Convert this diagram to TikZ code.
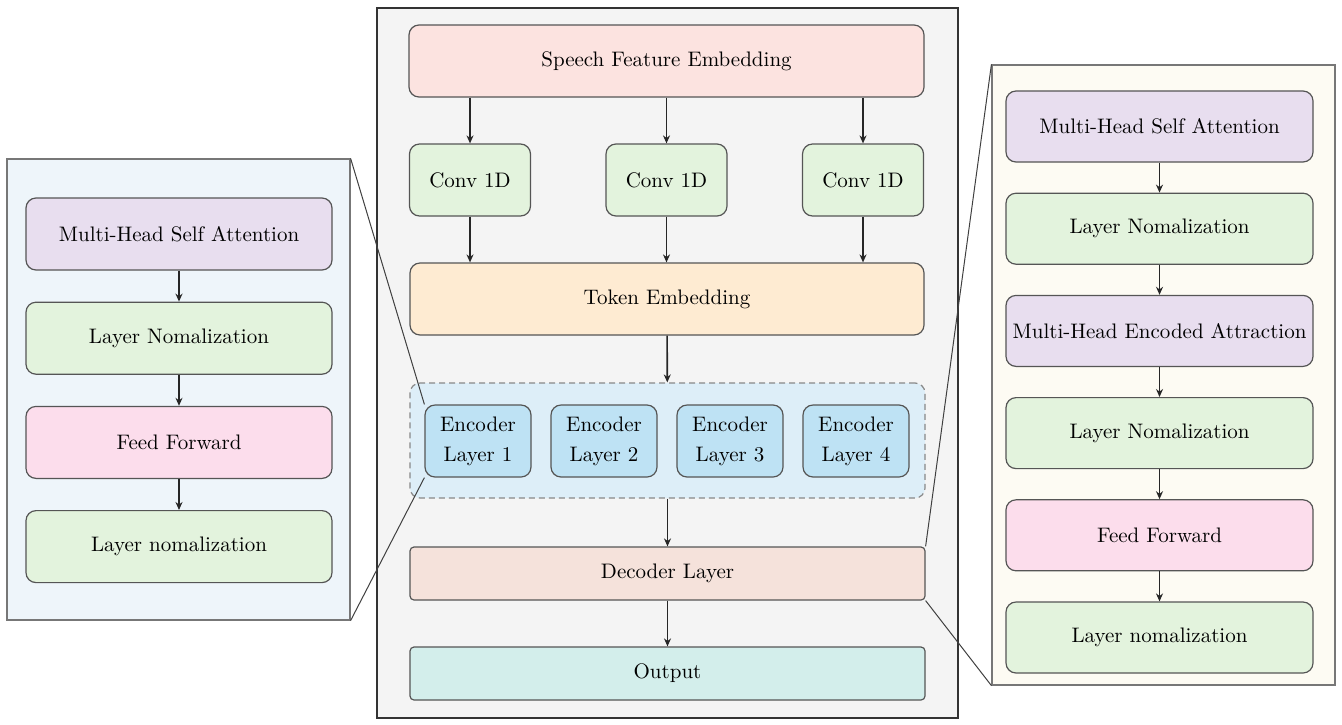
\documentclass[tikz,border=0pt]{standalone}
\usepackage{xcolor}
\usetikzlibrary{arrows.meta, positioning}

\definecolor{edgegray}{HTML}{555555}
\definecolor{mainbg}{HTML}{F4F4F4}
\definecolor{leftbg}{HTML}{EEF5FA}
\definecolor{rightbg}{HTML}{FDFBF3}
\definecolor{speechfill}{HTML}{FCE3E0}
\definecolor{convfill}{HTML}{E3F3DD}
\definecolor{tokenfill}{HTML}{FEEBD2}
\definecolor{groupfill}{HTML}{DDEEF8}
\definecolor{encfill}{HTML}{BEE2F4}
\definecolor{decfill}{HTML}{F5E2DB}
\definecolor{outfill}{HTML}{D3EEEB}
\definecolor{attnfill}{HTML}{E8DEEF}
\definecolor{normfill}{HTML}{E3F3DD}
\definecolor{ffwdfill}{HTML}{FCDDEC}

\begin{document}
\begin{tikzpicture}[
  x=0.5pt, y=-0.5pt,
  every node/.style={font=\fontsize{10.5}{15}\selectfont, inner sep=0pt, align=center},
  block/.style={draw=edgegray, line width=0.6pt, rounded corners=5pt},
  flatblock/.style={draw=edgegray, line width=0.6pt, rounded corners=2pt},
  panel/.style={draw=edgegray!80, line width=0.6pt},
  flow/.style={-{Stealth[length=4pt, width=3.5pt]}, line width=0.8pt, black!85},
  zoomline/.style={line width=0.5pt, black!75}
]
\useasboundingbox (0,0) rectangle (1342,724);

% Main model
\node[panel, draw=black!80, line width=0.9pt, fill=mainbg, minimum width=290.5pt, minimum height=355pt] (main) at (667.5,363) {};
\node[block, fill=speechfill, minimum width=257.5pt, minimum height=36pt] (speech) at (666.5,61) {Speech Feature Embedding};
\node[block, fill=convfill, minimum width=60.5pt, minimum height=36pt] (conv1) at (470,180) {Conv 1D};
\node[block, fill=convfill, minimum width=60.5pt, minimum height=36pt] (conv2) at (666.5,180) {Conv 1D};
\node[block, fill=convfill, minimum width=60.5pt, minimum height=36pt] (conv3) at (863,180) {Conv 1D};
\node[block, fill=tokenfill, minimum width=257pt, minimum height=36pt] (token) at (667,299) {Token Embedding};
\node[block, draw=edgegray!70, densely dashed, fill=groupfill, minimum width=257.5pt, minimum height=57.5pt] (encgroup) at (667.5,440.5) {};
\foreach \i/\x in {1/478, 2/604, 3/730, 4/856}
  \node[block, fill=encfill, minimum width=53pt, minimum height=36pt] (enc\i) at (\x,441) {Encoder\\Layer \i};
\node[flatblock, fill=decfill, minimum width=257.5pt, minimum height=26.5pt] (dec) at (667.5,573.5) {Decoder Layer};
\node[flatblock, fill=outfill, minimum width=257.5pt, minimum height=26.5pt] (out) at (667.5,673.5) {Output};

\foreach \c in {conv1, conv2, conv3} {
  \draw[flow] (speech.south -| \c) -- (\c);
  \draw[flow] (\c) -- (token.north -| \c);
}
\draw[flow] (token) -- (encgroup);
\draw[flow] (encgroup) -- (dec);
\draw[flow] (dec) -- (out);

% Encoder layer detail
\node[panel, fill=leftbg, minimum width=171.5pt, minimum height=230.5pt] (lpanel) at (178.5,389.5) {};
\node[block, fill=attnfill, minimum width=153pt, minimum height=36pt] (lattn) at (179,234) {Multi-Head Self Attention};
\node[block, fill=normfill, minimum width=153pt, minimum height=36pt, below=15.5pt of lattn] (lnorm) {Layer Nomalization};
\node[block, fill=ffwdfill, minimum width=153pt, minimum height=36pt, below=15.5pt of lnorm] (lffwd) {Feed Forward};
\node[block, fill=normfill, minimum width=153pt, minimum height=36pt, below=15.5pt of lffwd] (lnorm2) {Layer nomalization};
\draw[flow] (lattn) -- (lnorm);
\draw[flow] (lnorm) -- (lffwd);
\draw[flow] (lffwd) -- (lnorm2);
\draw[zoomline] (lpanel.north east) -- (enc1.north west);
\draw[zoomline] (lpanel.south east) -- (enc1.south west);

% Decoder layer detail
\node[panel, fill=rightbg, minimum width=171.5pt, minimum height=310pt] (rpanel) at (1163.5,375) {};
\node[block, fill=attnfill, minimum width=153.5pt, minimum height=35.5pt] (rattn) at (1159.5,126.5) {Multi-Head Self Attention};
\node[block, fill=normfill, minimum width=153.5pt, minimum height=35.5pt, below=15pt of rattn] (rnorm) {Layer Nomalization};
\node[block, fill=attnfill, minimum width=153.5pt, minimum height=35.5pt, below=15pt of rnorm] (rcross) {Multi-Head Encoded Attraction};
\node[block, fill=normfill, minimum width=153.5pt, minimum height=35.5pt, below=15pt of rcross] (rnorm2) {Layer Nomalization};
\node[block, fill=ffwdfill, minimum width=153.5pt, minimum height=35.5pt, below=15pt of rnorm2] (rffwd) {Feed Forward};
\node[block, fill=normfill, minimum width=153.5pt, minimum height=35.5pt, below=15pt of rffwd] (rnorm3) {Layer nomalization};
\draw[flow] (rattn) -- (rnorm);
\draw[flow] (rnorm) -- (rcross);
\draw[flow] (rcross) -- (rnorm2);
\draw[flow] (rnorm2) -- (rffwd);
\draw[flow] (rffwd) -- (rnorm3);
\draw[zoomline] (rpanel.north west) -- (dec.north east);
\draw[zoomline] (rpanel.south west) -- (dec.south east);

\end{tikzpicture}
\end{document}
